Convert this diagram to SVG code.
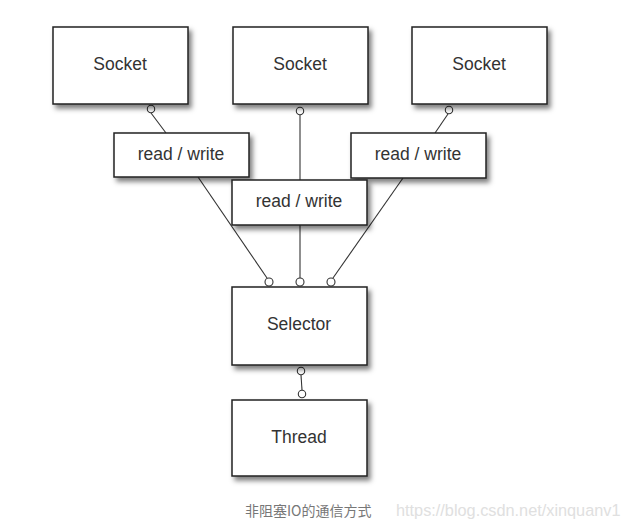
<svg xmlns="http://www.w3.org/2000/svg" width="621" height="527" viewBox="0 0 621 527">
<defs>
<filter id="sh" x="-10%" y="-10%" width="130%" height="140%">
<feDropShadow dx="3" dy="4" stdDeviation="2.5" flood-color="#000" flood-opacity="0.5"/>
</filter>
<style>
.box{fill:#fff;stroke:#222;stroke-width:1.5;filter:url(#sh)}
.t{font-family:"Liberation Sans",Arial,sans-serif;font-size:17.5px;fill:#333;text-anchor:middle}
.ln{stroke:#333;stroke-width:1.1;fill:none}
.c{fill:#fff;stroke:#333;stroke-width:1.1}
</style>
</defs>
<rect width="621" height="527" fill="#fff"/>
<g id="connectors">
<line class="ln" x1="151" y1="113" x2="166" y2="133"/>
<line class="ln" x1="300" y1="115" x2="300" y2="180"/>
<line class="ln" x1="448" y1="114" x2="435" y2="133"/>
<line class="ln" x1="198" y1="177" x2="267" y2="278"/>
<line class="ln" x1="300" y1="225" x2="300" y2="278"/>
<line class="ln" x1="403" y1="178" x2="333" y2="278"/>
<line class="ln" x1="301" y1="375" x2="302" y2="390"/>
<circle class="c" cx="151" cy="109" r="3.7"/>
<circle class="c" cx="300" cy="111" r="3.7"/>
<circle class="c" cx="449" cy="110" r="3.7"/>
<circle class="c" cx="269" cy="282" r="4"/>
<circle class="c" cx="300" cy="282" r="4"/>
<circle class="c" cx="331" cy="282" r="4"/>
<circle class="c" cx="301" cy="371" r="3.7"/>
<circle class="c" cx="302" cy="394" r="3.7"/>
</g>
<g id="socket1"><rect class="box" x="53" y="27" width="135" height="77"/><text class="t" x="120" y="70">Socket</text></g>
<g id="socket2"><rect class="box" x="233" y="27" width="135" height="77"/><text class="t" x="300" y="70">Socket</text></g>
<g id="socket3"><rect class="box" x="412" y="27" width="135" height="77"/><text class="t" x="479" y="70">Socket</text></g>
<g id="rw1"><rect class="box" x="114" y="133" width="135" height="44"/><text class="t" x="181" y="160">read / write</text></g>
<g id="rw3"><rect class="box" x="351" y="133" width="135" height="45"/><text class="t" x="418" y="160">read / write</text></g>
<g id="rw2"><rect class="box" x="232" y="180" width="135" height="45"/><text class="t" x="299" y="207">read / write</text></g>
<g id="selector"><rect class="box" x="232" y="287" width="135" height="78"/><text class="t" x="299" y="330">Selector</text></g>
<g id="thread"><rect class="box" x="232" y="400" width="135" height="76"/><text class="t" x="299" y="443">Thread</text></g>
<text x="245" y="516" font-family="'Noto Sans CJK SC','Liberation Sans',sans-serif" font-size="14" fill="#777">非阻塞IO的通信方式</text>
<text x="396" y="516" font-family="'Liberation Sans',Arial,sans-serif" font-size="16.3" fill="#e0e0e0">https://blog.csdn.net/xinquanv1</text>
</svg>
